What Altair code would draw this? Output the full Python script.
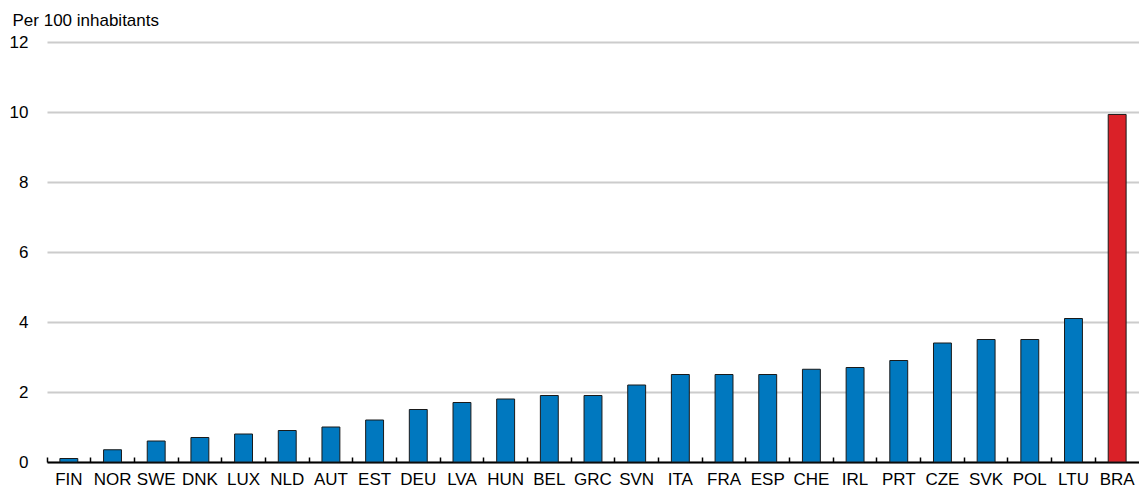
import altair as alt
import pandas as pd

countries = ["FIN", "NOR", "SWE", "DNK", "LUX", "NLD", "AUT", "EST", "DEU", "LVA",
             "HUN", "BEL", "GRC", "SVN", "ITA", "FRA", "ESP", "CHE", "IRL", "PRT",
             "CZE", "SVK", "POL", "LTU", "BRA"]
values = [0.1, 0.35, 0.6, 0.7, 0.8, 0.9, 1.0, 1.2, 1.5, 1.7,
          1.8, 1.9, 1.9, 2.2, 2.5, 2.5, 2.5, 2.65, 2.7, 2.9,
          3.4, 3.5, 3.5, 4.1, 9.93]
highlight = "BRA"
y_ticks = [0, 2, 4, 6, 8, 10, 12]

df = pd.DataFrame({"country": countries, "value": values})

FONT = "Liberation Sans, Arial, sans-serif"
FS = 17
BLUE = "#0078bf"
RED = "#da2128"

x_scale = alt.Scale(paddingInner=0, paddingOuter=0)
y_enc = alt.Y(
    "value:Q",
    scale=alt.Scale(domain=[0, 12]),
    axis=alt.Axis(
        values=y_ticks,
        title="Per 100 inhabitants",
        titleAngle=0,
        titleAlign="left",
        titleBaseline="alphabetic",
        titleX=-35,
        titleY=-16.5,
        titleFont=FONT,
        titleFontSize=FS,
        titleFontWeight="normal",
        titleColor="black",
        labelFont=FONT,
        labelFontSize=FS,
        labelColor="black",
        labelPadding=19,
        ticks=False,
        domain=False,
        grid=True,
        gridColor="#cccccc",
        gridWidth=1.8,
    ),
)

bars = alt.Chart(df).mark_bar(
    width=alt.RelativeBandSize(0.41), stroke="#1a1a1a", strokeWidth=1
).encode(
    x=alt.X(
        "country:N",
        sort=None,
        scale=x_scale,
        axis=alt.Axis(
            orient="bottom",
            title=None,
            labelAngle=0,
            labelFont=FONT,
            labelFontSize=FS,
            labelColor="black",
            labelPadding=9,
            ticks=False,
            domain=True,
            domainColor="black",
            domainWidth=2,
            grid=False,
        ),
    ),
    y=y_enc,
    color=alt.condition(
        alt.datum.country == highlight, alt.value(RED), alt.value(BLUE)
    ),
)

tick_layer = alt.Chart(df).mark_bar(opacity=0).encode(
    x=alt.X(
        "country:N",
        sort=None,
        scale=x_scale,
        axis=alt.Axis(
            orient="bottom",
            title=None,
            labels=False,
            domain=False,
            grid=False,
            ticks=True,
            tickSize=5,
            tickWidth=1.5,
            tickColor="black",
            bandPosition=0,
            offset=-5,
        ),
    ),
    y=alt.Y("value:Q"),
)

chart = (
    alt.layer(bars, tick_layer)
    .resolve_axis(x="independent")
    .properties(
        width=1092,
        height=420,
        padding={"left": 1, "top": 3, "right": 0, "bottom": 0},
    )
    .configure_view(stroke=None)
)

chart.save("out.html", embed_options={"renderer": "svg", "actions": False})
